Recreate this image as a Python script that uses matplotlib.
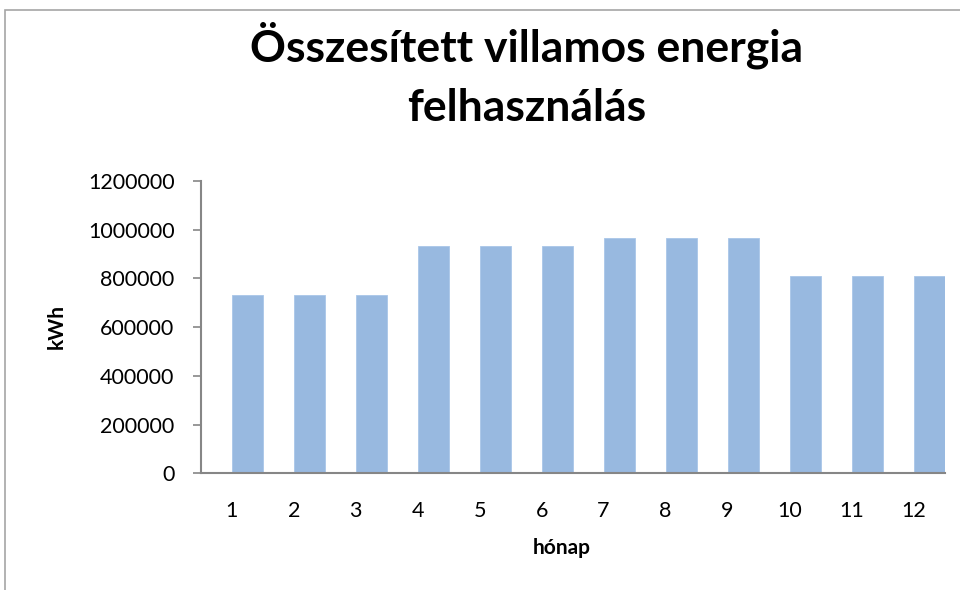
import matplotlib.pyplot as plt
from matplotlib.patches import Rectangle

# monthly totals (kWh)
months = [1, 2, 3, 4, 5, 6, 7, 8, 9, 10, 11, 12]
kwh = [732000, 732000, 732000, 932000, 932000, 932000,
       966000, 966000, 966000, 810000, 810000, 810000]
yticks = [0, 200000, 400000, 600000, 800000, 1000000, 1200000]

plt.rcParams['font.family'] = ['Lato', 'DejaVu Sans']

fig = plt.figure(figsize=(9.6, 5.9), dpi=100)
# outer chart frame (cut off at right and bottom like the screenshot)
fig.patches.append(Rectangle((5 / 960, -0.1), 1.1, (590 - 10) / 590 + 0.1,
                             transform=fig.transFigure, fill=False,
                             edgecolor='#a6a6a6', linewidth=1.2))

ax = fig.add_axes([201 / 960, 116.7 / 590, 744 / 960, 292.3 / 590])
ax.bar(months, kwh, width=0.5, color='#98b9e0', edgecolor='#a9c6e8', linewidth=0.6)

ax.set_xlim(0.242, 12.25)
ax.set_ylim(0, 1200000)
ax.set_yticks(yticks)
ax.set_yticklabels([str(v) for v in yticks])
# month labels sit a bit left of the bar centres in the original
ax.set_xticks([m - 0.26 for m in months])
ax.set_xticklabels([str(m) for m in months])

for s in ['top', 'right']:
    ax.spines[s].set_visible(False)
for s in ['left', 'bottom']:
    ax.spines[s].set_color('#868686')
    ax.spines[s].set_linewidth(1.5)
ax.tick_params(axis='y', length=6, width=1.2, color='#868686', labelsize=15.5, pad=13)
ax.tick_params(axis='x', length=0, labelsize=15.5, pad=20)

ax.set_ylabel('kWh', fontsize=15, fontweight='bold')
ax.yaxis.set_label_coords((67 - 201) / 744, (473.3 - 327) / 292.3)
ax.set_xlabel('hónap', fontsize=15, fontweight='bold')
ax.xaxis.set_label_coords((562 - 201) / 744, -(538 - 473.3) / 292.3)

fig.text(527 / 960, 1 - 75 / 590, 'Összesített villamos energia\nfelhasználás',
         ha='center', va='center', fontsize=32, fontweight='bold',
         linespacing=1.58)

fig.savefig('out.png', dpi=100)
